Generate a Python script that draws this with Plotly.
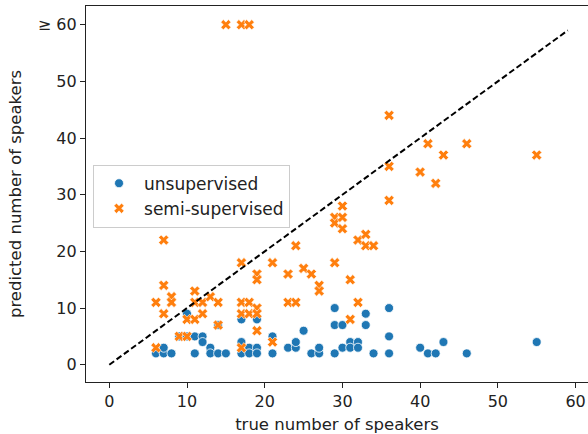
import plotly.graph_objects as go

# unsupervised predictions (true, predicted)
unsup_true = [6, 7, 8, 7, 10, 9, 10, 11, 12, 12, 11, 13, 13, 14, 15, 14, 17, 17, 17, 18, 18,
              19, 19, 19, 21, 21, 23, 24, 24, 25, 26, 27, 27, 29, 29, 30, 29, 30, 31, 31,
              32, 32, 33, 33, 34, 36, 36, 36, 40, 41, 42, 43, 46, 55]
unsup_pred = [2, 2, 2, 3, 9, 5, 5, 5, 5, 4, 2, 3, 2, 2, 2, 7, 8, 4, 2, 3, 2,
              8, 3, 2, 5, 2, 3, 3, 4, 6, 2, 2, 3, 10, 7, 7, 2, 3, 4, 3,
              4, 3, 9, 7, 2, 10, 5, 2, 3, 2, 2, 4, 2, 4]

# semi-supervised predictions (true, predicted); 60 means >= 60
semi_true = [6, 6, 7, 7, 7, 8, 8, 9, 10, 10, 11, 11, 11, 12, 12, 13, 14, 14, 15, 17, 18,
             17, 17, 17, 17, 18, 18, 19, 19, 19, 19, 19, 21, 21, 23, 23, 24, 24, 25, 26,
             27, 27, 29, 29, 29, 30, 30, 30, 31, 31, 32, 32, 33, 33, 34, 36, 36, 36,
             40, 41, 42, 43, 46, 55]
semi_pred = [11, 3, 22, 14, 9, 12, 11, 5, 5, 8, 8, 13, 11, 11, 9, 12, 11, 7, 60, 60, 60,
             18, 11, 9, 3, 11, 9, 16, 15, 10, 9, 6, 18, 4, 16, 11, 21, 11, 17, 16,
             14, 13, 26, 25, 18, 28, 26, 24, 15, 8, 22, 11, 23, 21, 21, 44, 35, 29,
             34, 39, 32, 37, 39, 37]

diag = [0, 59]

y_tickvals = [0, 10, 20, 30, 40, 50, 60]
y_ticktext = ["0", "10", "20", "30", "40", "50", "≥ 60"]
x_tickvals = [0, 10, 20, 30, 40, 50, 60]

BLUE = "#1f77b4"
ORANGE = "#ff7f0e"

fig = go.Figure()
fig.add_trace(go.Scatter(
    x=unsup_true, y=unsup_pred, mode="markers", name="unsupervised",
    marker=dict(symbol="circle", size=9, color=BLUE, line=dict(color="white", width=0.8)),
))
fig.add_trace(go.Scatter(
    x=semi_true, y=semi_pred, mode="markers", name="semi-supervised",
    marker=dict(symbol="x", size=9, color=ORANGE, line=dict(color="white", width=0.6)),
))
fig.add_trace(go.Scatter(
    x=diag, y=diag, mode="lines", showlegend=False,
    line=dict(color="black", width=2, dash="6px,3px"),
))

axis_common = dict(
    showgrid=False, zeroline=False, showline=True, linecolor="#222", linewidth=1.2,
    ticks="outside", ticklen=5, tickwidth=1.2, tickcolor="#222",
    tickfont=dict(size=16, color="#222"), automargin=False,
)

fig.update_layout(
    width=588, height=434,
    margin=dict(l=86, r=0, t=6, b=52),
    plot_bgcolor="white", paper_bgcolor="white",
    font=dict(family="DejaVu Sans", size=16, color="#222"),
    xaxis=dict(range=[-3.0, 61.6], tickvals=x_tickvals, mirror=True,
               title=dict(text="true number of speakers", standoff=8, font=dict(size=16.5)),
               **axis_common),
    yaxis=dict(range=[-3.05, 63.3], tickvals=y_tickvals, ticktext=y_ticktext,
               title=dict(text="predicted number of speakers", standoff=12, font=dict(size=16.5)),
               **axis_common),
    legend=dict(x=0.014, y=0.578, xanchor="left", yanchor="top",
                bgcolor="rgba(255,255,255,0.8)", bordercolor="#cccccc", borderwidth=1,
                font=dict(size=17, color="#222"), itemwidth=40, tracegroupgap=0),
    showlegend=True,
)

fig.write_html("out.html", config={"displayModeBar": False},
               post_script="document.body.style.margin='0';")
